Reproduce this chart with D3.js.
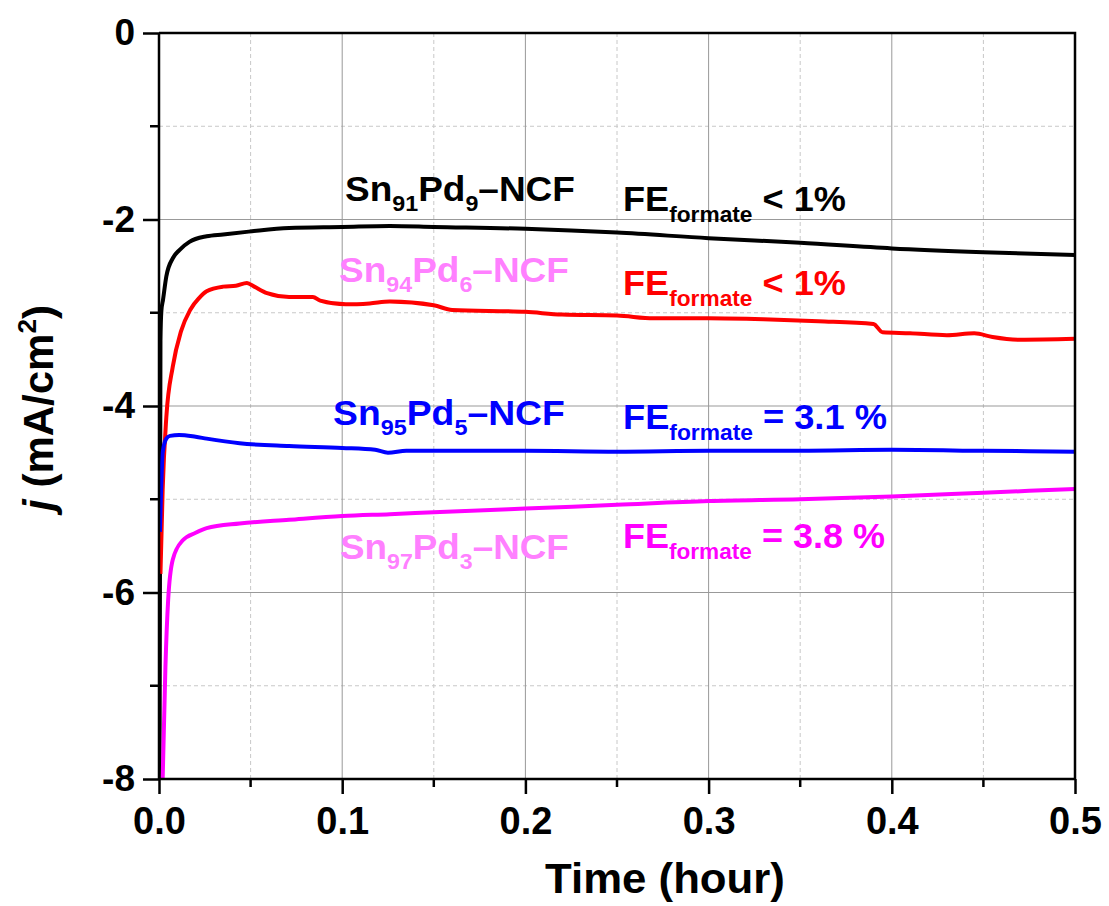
<!DOCTYPE html>
<html>
<head>
<meta charset="utf-8">
<script src="https://cdn.jsdelivr.net/npm/d3@7"></script>
<style>
  body { margin: 0; background: #fff; }
  svg { display: block; font-family: Arial, "Liberation Sans", sans-serif; font-weight: bold; }
</style>
</head>
<body>
<svg id="chart"></svg>
<script>
// chronoamperometry, j vs time
let xTicks = [0.0, 0.1, 0.2, 0.3, 0.4, 0.5];
let yTicks = [0, -2, -4, -6, -8];

let blackT = [0.0003, 0.0008, 0.0013, 0.0022, 0.004, 0.0077, 0.011, 0.0166, 0.026, 0.035, 0.049, 0.071, 0.1, 0.126, 0.15, 0.2, 0.25, 0.3, 0.35, 0.4, 0.45, 0.5];
let blackJ = [-8, -3.3, -2.98, -2.86, -2.61, -2.41, -2.33, -2.24, -2.18, -2.16, -2.13, -2.09, -2.08, -2.07, -2.08, -2.10, -2.14, -2.20, -2.25, -2.31, -2.35, -2.38];

let redT = [0.0008, 0.002, 0.004, 0.0075, 0.012, 0.017, 0.022, 0.026, 0.035, 0.042, 0.048, 0.052, 0.059, 0.071, 0.084, 0.088, 0.102, 0.115, 0.126, 0.15, 0.16, 0.2, 0.22, 0.25, 0.27, 0.3, 0.33, 0.36, 0.39, 0.395, 0.41, 0.43, 0.445, 0.455, 0.47, 0.5];
let redJ = [-5.8, -4.9, -4.12, -3.58, -3.2, -2.97, -2.84, -2.77, -2.72, -2.71, -2.68, -2.72, -2.79, -2.83, -2.83, -2.87, -2.91, -2.9, -2.88, -2.92, -2.97, -2.99, -3.02, -3.03, -3.06, -3.06, -3.07, -3.09, -3.12, -3.21, -3.22, -3.24, -3.22, -3.26, -3.29, -3.28];

let blueT = [0.0005, 0.001, 0.0015, 0.002, 0.004, 0.006, 0.011, 0.02, 0.026, 0.044, 0.071, 0.1, 0.118, 0.125, 0.135, 0.2, 0.25, 0.3, 0.35, 0.4, 0.45, 0.5];
let blueJ = [-5.35, -5.0, -4.7, -4.5, -4.35, -4.32, -4.31, -4.33, -4.35, -4.40, -4.43, -4.45, -4.47, -4.50, -4.48, -4.48, -4.49, -4.48, -4.48, -4.47, -4.48, -4.49];

let magentaT = [0.002, 0.0035, 0.005, 0.0075, 0.013, 0.02, 0.026, 0.044, 0.071, 0.1, 0.126, 0.15, 0.2, 0.25, 0.3, 0.35, 0.4, 0.45, 0.5];
let magentaJ = [-8, -6.8, -6.08, -5.65, -5.44, -5.36, -5.31, -5.26, -5.22, -5.18, -5.16, -5.14, -5.10, -5.06, -5.02, -5.0, -4.97, -4.93, -4.89];

let sampleNames = ["Sn|91|Pd|9|–NCF", "Sn|94|Pd|6|–NCF", "Sn|95|Pd|5|–NCF", "Sn|97|Pd|3|–NCF"];
let feValues = ["< 1%", "< 1%", "= 3.1 %", "= 3.8 %"];

let svg_width = 1109, svg_height = 906;
let pLeft = 159, pRight = 1075, pTop = 33, pBottom = 779;

let svg = d3.select('#chart')
    .attr("width", svg_width)
    .attr("height", svg_height);

let x = d3.scaleLinear().domain([0, 0.5]).range([pLeft, pRight]);
let y = d3.scaleLinear().domain([-8, 0]).range([pBottom, pTop]);

// stretch a text horizontally so it spans the given width
function fitWidth(g, w) {
    let bb = g.node().getBBox();
    let sx = w / bb.width;
    let tr = g.attr('data-pos').split(',').map(Number);
    g.attr('transform', `translate(${tr[0]},${tr[1]}) scale(${sx},1)`);
}

// grid
let grid = svg.append('g');
let xMinor = [0.05, 0.15, 0.25, 0.35, 0.45];
let yMinor = [-1, -3, -5, -7];
grid.selectAll('.xmin').data(xMinor).enter().append('line')
    .attr('x1', d => x(d)).attr('x2', d => x(d)).attr('y1', pTop).attr('y2', pBottom)
    .attr('stroke', '#c8c8c8').attr('stroke-dasharray', '4,3');
grid.selectAll('.ymin').data(yMinor).enter().append('line')
    .attr('y1', d => y(d)).attr('y2', d => y(d)).attr('x1', pLeft).attr('x2', pRight)
    .attr('stroke', '#c8c8c8').attr('stroke-dasharray', '4,3');
grid.selectAll('.xmaj').data(xTicks.slice(1, -1)).enter().append('line')
    .attr('x1', d => x(d)).attr('x2', d => x(d)).attr('y1', pTop).attr('y2', pBottom)
    .attr('stroke', '#999');
grid.selectAll('.ymaj').data(yTicks.slice(1, -1)).enter().append('line')
    .attr('y1', d => y(d)).attr('y2', d => y(d)).attr('x1', pLeft).attr('x2', pRight)
    .attr('stroke', '#999');

// curves
svg.append('clipPath').attr('id', 'clip').append('rect')
    .attr('x', pLeft).attr('y', pTop).attr('width', pRight - pLeft).attr('height', pBottom - pTop);

let series = [
    {t: blackT, j: blackJ, color: '#000000'},
    {t: redT, j: redJ, color: '#ff0000'},
    {t: blueT, j: blueJ, color: '#0000ff'},
    {t: magentaT, j: magentaJ, color: '#ff00ff'}
];

let lineGenerator = d3.line()
    .x(d => x(d[0]))
    .y(d => y(d[1]))
    .curve(d3.curveMonotoneX);

let curves = svg.append('g').attr('clip-path', 'url(#clip)');
series.forEach(s => {
    curves.append('path')
        .attr('fill', 'none')
        .attr('stroke', s.color)
        .attr('stroke-width', 4)
        .attr('stroke-linejoin', 'round')
        .attr('d', lineGenerator(d3.zip(s.t, s.j)));
});

// axes
let xAxis = d3.axisBottom(x).tickValues(xTicks).tickFormat(d3.format('.1f')).tickSize(15).tickPadding(13);
let gx = svg.append('g').attr('transform', `translate(0,${pBottom})`).call(xAxis);
gx.selectAll('text').attr('font-size', 38).attr('font-weight', 'bold').attr('fill', '#000')
    .attr('font-family', 'Arial, "Liberation Sans", sans-serif');
gx.append('g').selectAll('line').data(xMinor).enter().append('line')
    .attr('x1', d => x(d)).attr('x2', d => x(d)).attr('y1', 0).attr('y2', 8)
    .attr('stroke', '#000').attr('stroke-width', 2.5);

let yAxis = d3.axisLeft(y).tickValues(yTicks).tickFormat(d => String(d)).tickSize(16).tickPadding(8);
let gy = svg.append('g').attr('transform', `translate(${pLeft},0)`).call(yAxis);
gy.selectAll('text').attr('font-size', 37).attr('font-weight', 'bold').attr('fill', '#000')
    .attr('font-family', 'Arial, "Liberation Sans", sans-serif');
gy.append('g').selectAll('line').data(yMinor).enter().append('line')
    .attr('y1', d => y(d)).attr('y2', d => y(d)).attr('x1', 0).attr('x2', -9)
    .attr('stroke', '#000').attr('stroke-width', 2.5);

svg.selectAll('.domain').attr('stroke-width', 2.5);
svg.selectAll('.tick line').attr('stroke-width', 2.5);
gx.select('.domain').attr('d', `M${pLeft},0H${pRight}`);
gy.select('.domain').attr('d', `M0,${pTop}V${pBottom}`);

// frame top and right
svg.append('path')
    .attr('d', `M${pLeft},${pTop}H${pRight}V${pBottom}`)
    .attr('fill', 'none').attr('stroke', '#000').attr('stroke-width', 2.5);

// axis titles
let xt = svg.append('g').attr('data-pos', '665,893');
xt.append('text')
    .attr('text-anchor', 'middle').attr('font-size', 42)
    .text('Time (hour)');
fitWidth(xt, 240);

let yt = svg.append('text')
    .attr('transform', 'translate(53,408) rotate(-90)')
    .attr('text-anchor', 'middle').attr('font-size', 42);
yt.append('tspan').attr('font-style', 'italic').text('j');
yt.append('tspan').text(' (mA/cm');
yt.append('tspan').attr('font-size', 26).attr('dy', -17).text('2');
yt.append('tspan').attr('dy', 17).text(')');

// sample labels
let nameColors = ['#000000', '#ff80ff', '#0000ff', '#ff80ff'];
let namePos = [[345, 201], [339, 282], [333, 425], [340, 559]];
let nameWidth = [230, 230, 232, 229];
let feColors = ['#000000', '#ff0000', '#0000ff', '#ff00ff'];
let fePos = [[623, 211], [623, 295], [623, 429], [623, 548]];
let feWidth = [223, 223, 264, 262];

sampleNames.forEach((name, i) => {
    let parts = name.split('|');
    let g = svg.append('g').attr('data-pos', namePos[i].join(','));
    let t = g.append('text')
        .attr('font-size', 35).attr('fill', nameColors[i]);
    parts.forEach((p, k) => {
        let sub = k % 2 === 1;
        t.append('tspan')
            .attr('font-size', sub ? 22 : 35)
            .attr('dy', k === 0 ? 0 : (sub ? 10 : -10))
            .text(p);
    });
    fitWidth(g, nameWidth[i]);
});

feValues.forEach((v, i) => {
    let g = svg.append('g').attr('data-pos', fePos[i].join(','));
    let t = g.append('text')
        .attr('font-size', 35).attr('fill', feColors[i])
        .attr('xml:space', 'preserve');
    t.append('tspan').text('FE');
    t.append('tspan').attr('font-size', 22).attr('dy', 11).text('formate');
    t.append('tspan').attr('dy', -11).text(' ' + v);
    fitWidth(g, feWidth[i]);
});
</script>
</body>
</html>
